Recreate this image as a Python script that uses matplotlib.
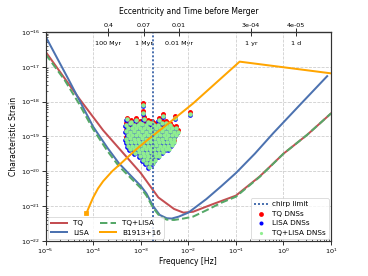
import matplotlib
matplotlib.use("Agg")
from matplotlib import pyplot as plt
from matplotlib.ticker import NullLocator
from matplotlib.transforms import offset_copy

# sensitivity curves (characteristic strain vs frequency)
lisa_f = [1e-5, 3.16e-5, 1e-4, 2.0e-4, 3.47e-4, 5.1e-4, 1e-3, 1.32e-3, 1.82e-3, 2.5e-3, 3.5e-3,
          4.5e-3, 6.3e-3, 1e-2, 2.4e-2, 5e-2, 1e-1, 2.5e-1, 6.05e-1, 2.57, 8.3]
lisa_h = [7.4e-17, 3.9e-18, 1.9e-19, 4.7e-20, 1.7e-20, 9.8e-21, 3.8e-21, 2.3e-21, 1.0e-21, 5.6e-22, 4.5e-22,
          4.4e-22, 5.0e-22, 6.5e-22, 1.6e-21, 3.8e-21, 8.9e-21, 3.2e-20, 1.23e-19, 1.0e-18, 5.4e-18]

tq_f = [1e-5, 5.0e-5, 1.62e-4, 1e-3, 2.34e-3, 5.0e-3, 7.9e-3, 1.26e-2, 3.16e-2, 1e-1, 3.16e-1, 1, 3.16, 10]
tq_h = [2.7e-17, 1.26e-18, 1.5e-19, 8.9e-21, 1.78e-21, 8.3e-22, 6.5e-22, 6.9e-22, 1.12e-21, 2.0e-21,
        7.1e-21, 3.2e-20, 1.12e-19, 4.6e-19]

both_f = [1e-5, 2.5e-5, 5e-5, 1e-4, 2e-4, 3.47e-4, 5.1e-4, 1e-3, 1.32e-3, 1.82e-3, 2.5e-3, 3.5e-3, 5e-3,
          7.9e-3, 1.26e-2, 2.4e-2, 5e-2, 1e-1, 3.16e-1, 1, 3.16, 10]
both_h = [2.3e-17, 4.2e-18, 8.9e-19, 1.6e-19, 3.8e-20, 1.4e-20, 8.3e-21, 3.3e-21, 2.0e-21, 8.9e-22, 5.1e-22,
          4.1e-22, 4.0e-22, 4.4e-22, 5.0e-22, 7.6e-22, 1.26e-21, 1.86e-21, 6.9e-21, 3.2e-20, 1.12e-19, 4.6e-19]

# B1913+16 track
psr_f = [7.2e-5, 8.5e-5, 1e-4, 1.26e-4, 1.62e-4, 2.5e-4, 4.0e-4, 7.9e-4, 1.41e-3, 4.0e-3, 1.26e-2, 1.2e-1, 10]
psr_h = [6.2e-22, 1.07e-21, 1.78e-21, 3.2e-21, 5.2e-21, 1e-20, 1.78e-20, 4.2e-20, 8.1e-20, 2.5e-19, 8.9e-19,
         1.41e-17, 6.5e-18]

chirp_f = 1.8e-3

# galactic DNSs
dns_f = [5.11e-4, 6.20e-4, 7.88e-4, 9.57e-4, 1.16e-3, 1.41e-3, 1.71e-3, 2.40e-3, 3.36e-3,
         4.86e-4, 5.90e-4, 7.16e-4, 8.68e-4, 1.05e-3, 1.28e-3, 1.55e-3, 1.88e-3, 2.29e-3, 2.77e-3, 3.36e-3, 4.08e-3,
         5.36e-4, 6.50e-4, 7.88e-4, 9.57e-4, 1.16e-3, 1.41e-3, 1.71e-3, 2.07e-3, 2.52e-3, 3.05e-3, 3.71e-3, 4.50e-3, 5.46e-3,
         4.86e-4, 5.90e-4, 7.16e-4, 8.68e-4, 1.05e-3, 1.28e-3, 1.55e-3, 1.88e-3, 2.29e-3, 2.77e-3, 3.36e-3, 4.08e-3, 4.95e-3, 6.01e-3,
         5.36e-4, 6.50e-4, 7.88e-4, 9.57e-4, 1.16e-3, 1.41e-3, 1.71e-3, 2.07e-3, 2.52e-3, 3.05e-3, 3.71e-3, 4.50e-3, 5.46e-3,
         4.86e-4, 5.90e-4, 7.16e-4, 8.68e-4, 1.05e-3, 1.28e-3, 1.55e-3, 1.88e-3, 2.29e-3, 2.77e-3, 3.36e-3, 4.08e-3, 4.95e-3,
         5.11e-4, 6.20e-4, 7.52e-4, 9.12e-4, 1.11e-3, 1.34e-3, 1.63e-3, 1.98e-3, 2.40e-3, 2.91e-3, 3.53e-3, 4.29e-3, 4.95e-3,
         5.36e-4, 6.50e-4, 7.88e-4, 9.57e-4, 1.16e-3, 1.41e-3, 1.71e-3, 2.07e-3, 2.52e-3, 3.05e-3, 3.71e-3, 4.50e-3,
         5.90e-4, 7.16e-4, 8.68e-4, 1.05e-3, 1.28e-3, 1.55e-3, 1.88e-3, 2.29e-3, 2.77e-3, 3.36e-3, 3.89e-3,
         7.52e-4, 9.12e-4, 1.11e-3, 1.34e-3, 1.63e-3, 1.98e-3, 2.40e-3, 2.91e-3,
         9.57e-4, 1.16e-3, 1.41e-3, 1.71e-3, 2.07e-3, 2.40e-3,
         1.11e-3, 1.34e-3, 1.63e-3, 1.98e-3,
         1.28e-3, 1.55e-3, 1.79e-3,
         1.48e-3,
         1.12e-3, 1.12e-3, 2.96e-3, 5.3e-3, 1.11e-2]
dns_h = [3.1e-19, 2.6e-19, 3.0e-19, 2.5e-19, 3.2e-19, 2.6e-19, 2.4e-19, 3.0e-19, 2.4e-19,
         2.2e-19, 2.4e-19, 2.1e-19, 2.2e-19, 2.3e-19, 2.1e-19, 2.4e-19, 2.2e-19, 2.1e-19, 2.4e-19, 2.0e-19, 2.2e-19,
         1.7e-19, 1.8e-19, 1.7e-19, 1.75e-19, 1.7e-19, 1.8e-19, 1.7e-19, 1.75e-19, 1.7e-19, 1.8e-19, 1.7e-19, 1.8e-19, 1.75e-19,
         1.4e-19, 1.35e-19, 1.4e-19, 1.38e-19, 1.4e-19, 1.35e-19, 1.4e-19, 1.38e-19, 1.35e-19, 1.4e-19, 1.38e-19, 1.4e-19, 1.35e-19, 1.38e-19,
         1.1e-19, 1.12e-19, 1.1e-19, 1.08e-19, 1.1e-19, 1.12e-19, 1.1e-19, 1.08e-19, 1.1e-19, 1.12e-19, 1.1e-19, 1.08e-19, 1.1e-19,
         8.7e-20, 8.8e-20, 8.6e-20, 8.7e-20, 8.8e-20, 8.6e-20, 8.7e-20, 8.8e-20, 8.6e-20, 8.7e-20, 8.8e-20, 8.6e-20, 8.7e-20,
         6.9e-20, 7.0e-20, 6.8e-20, 6.9e-20, 7.0e-20, 6.8e-20, 6.9e-20, 7.0e-20, 6.8e-20, 6.9e-20, 7.0e-20, 6.8e-20, 6.9e-20,
         5.5e-20, 5.4e-20, 5.5e-20, 5.6e-20, 5.5e-20, 5.4e-20, 5.5e-20, 5.6e-20, 5.5e-20, 5.4e-20, 5.5e-20, 5.6e-20,
         4.35e-20, 4.4e-20, 4.3e-20, 4.35e-20, 4.4e-20, 4.3e-20, 4.35e-20, 4.4e-20, 4.3e-20, 4.35e-20, 4.4e-20,
         3.45e-20, 3.5e-20, 3.4e-20, 3.45e-20, 3.5e-20, 3.4e-20, 3.45e-20, 3.5e-20,
         2.73e-20, 2.7e-20, 2.75e-20, 2.73e-20, 2.7e-20, 2.75e-20,
         2.17e-20, 2.2e-20, 2.15e-20, 2.17e-20,
         1.72e-20, 1.7e-20, 1.75e-20,
         1.36e-20,
         8.0e-19, 4.7e-19, 3.85e-19, 3.4e-19, 4.4e-19]

# axis ticks
x_ticks = [1e-5, 1e-4, 1e-3, 1e-2, 1e-1, 1, 10]
y_ticks = [1e-22, 1e-21, 1e-20, 1e-19, 1e-18, 1e-17, 1e-16]

# top axis: eccentricity and time before merger
ecc_f = [2.07e-4, 1.16e-3, 6.4e-3, 0.206, 1.84]
ecc_labels = ['0.4', '0.07', '0.01', '3e-04', '4e-05']
time_labels = ['100 Myr', '1 Myr', '0.01 Myr', '1 yr', '1 d']

red = '#C44E52'
blue = '#4C72B0'
green = '#55A868'

plt.rcParams['xtick.labelsize'] = 8
plt.rcParams['ytick.labelsize'] = 8

fig = plt.figure(figsize=(6.4, 4.8), dpi=57.5)
ax = fig.add_axes([0.124, 0.127, 0.7755, 0.757])

l_tq, = ax.plot(tq_f, tq_h, color=red, lw=2.5, zorder=2)
l_lisa, = ax.plot(lisa_f, lisa_h, color=blue, lw=2.5, zorder=2)
l_both, = ax.plot(both_f, both_h, color=green, lw=2.5, ls='--', zorder=2)
l_psr, = ax.plot(psr_f, psr_h, color='orange', lw=2.5, zorder=2)
ax.plot(psr_f[0], psr_h[0], 's', color='orange', ms=5, zorder=2)
chirp = ax.axvline(chirp_f, color=blue, lw=2.5, ls=(0, (1, 1)), zorder=2)

# TQ / LISA / combined detections of the same binaries
tr_red = offset_copy(ax.transData, fig=fig, x=0, y=1.8, units='dots')
tr_blue = offset_copy(ax.transData, fig=fig, x=-0.5, y=-1.0, units='dots')
s_red = ax.scatter(dns_f, dns_h, s=38, color='red', linewidths=0, transform=tr_red, zorder=1)
s_blue = ax.scatter(dns_f, dns_h, s=34, color='blue', linewidths=0, transform=tr_blue, zorder=1)
s_green = ax.scatter(dns_f, dns_h, s=32, color='lightgreen', linewidths=0, zorder=1)

ax.set_xscale('log')
ax.set_yscale('log')
ax.set_xticks(x_ticks)
ax.set_yticks(y_ticks)
ax.set_xlim(1e-5, 10)
ax.set_ylim(1e-22, 1e-16)
ax.set_xlabel('Frequency [Hz]', fontsize=9.5, labelpad=2)
ax.set_ylabel('Characteristic Strain', fontsize=9.5, labelpad=3)
ax.grid(True, which='major', ls='--', color='#cccccc', lw=1)
ax.set_axisbelow(True)
ax.tick_params(which='major', direction='out', length=5, width=1, pad=2)
ax.tick_params(which='minor', direction='in', length=3, width=0.8)
for sp in ax.spines.values():
    sp.set_linewidth(1.5)
    sp.set_color('#333333')

# eccentricity ticks above, time labels inside
sec1 = ax.secondary_xaxis('top')
sec1.set_xticks(ecc_f)
sec1.set_xticklabels(ecc_labels)
sec1.xaxis.set_minor_locator(NullLocator())
sec1.tick_params(axis='x', direction='inout', length=9, width=1, pad=1)
sec1.set_xlabel('Eccentricity and Time before Merger', fontsize=9.5, labelpad=11)
sec1.spines['top'].set_linewidth(1.5)
sec1.spines['top'].set_color('#333333')

sec2 = ax.secondary_xaxis('top')
sec2.set_xticks(ecc_f)
sec2.set_xticklabels(time_labels)
sec2.xaxis.set_minor_locator(NullLocator())
sec2.tick_params(axis='x', direction='in', length=0, pad=-18)
sec2.spines['top'].set_visible(False)

leg1 = ax.legend([l_tq, l_lisa, l_both, l_psr], ['TQ', 'LISA', 'TQ+LISA', 'B1913+16'],
                 loc='lower left', ncol=2, fontsize=9, handlelength=2.3, columnspacing=1.5,
                 borderaxespad=0.3)
ax.add_artist(leg1)
leg2 = ax.legend([chirp, s_red, s_blue, s_green], ['chirp limit', 'TQ DNSs', 'LISA DNSs', 'TQ+LISA DNSs'],
                 loc='lower right', fontsize=9, borderaxespad=0.3, handletextpad=0.6)
for hnd, sz in zip(leg2.legend_handles[1:], [36, 26, 16]):
    hnd.set_sizes([sz])

plt.savefig('out.png', dpi=57.5)
